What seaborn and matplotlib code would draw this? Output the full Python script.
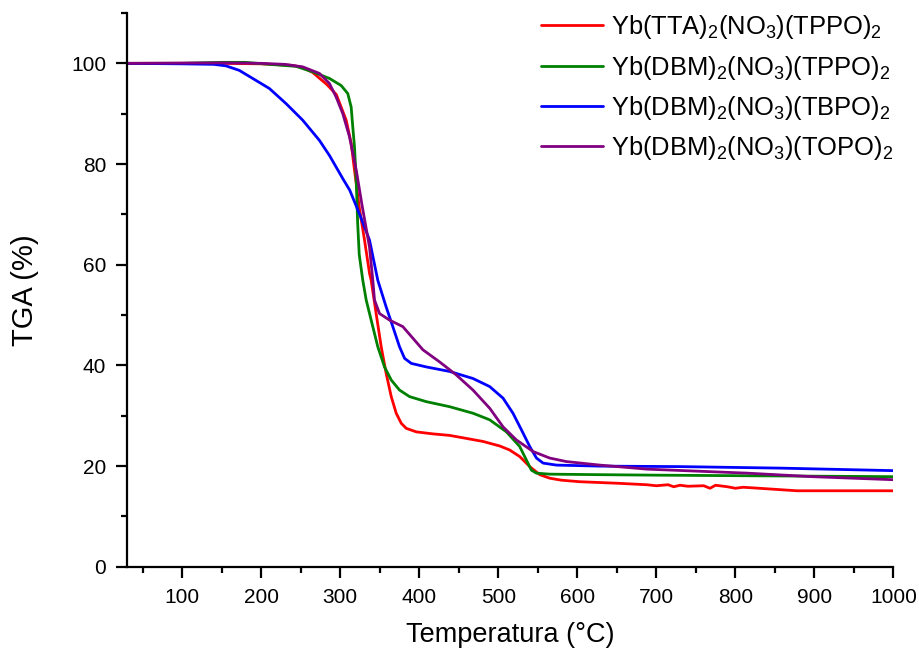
import numpy as np
import pandas as pd
import matplotlib
matplotlib.use("Agg")
import matplotlib.pyplot as plt
import seaborn as sns
from matplotlib.ticker import MultipleLocator

sns.set_theme(style="ticks")
plt.rcParams['font.family'] = ['Liberation Sans', 'DejaVu Sans']
plt.rcParams['mathtext.fontset'] = 'custom'
plt.rcParams['mathtext.rm'] = 'Liberation Sans'
plt.rcParams['mathtext.it'] = 'Liberation Sans:italic'
plt.rcParams['mathtext.bf'] = 'Liberation Sans:bold'
for k in ['text.color', 'axes.labelcolor', 'xtick.color', 'ytick.color', 'axes.edgecolor']:
    plt.rcParams[k] = 'black'

labels = [r'Yb(TTA)$_2$(NO$_3$)(TPPO)$_2$',
          r'Yb(DBM)$_2$(NO$_3$)(TPPO)$_2$',
          r'Yb(DBM)$_2$(NO$_3$)(TBPO)$_2$',
          r'Yb(DBM)$_2$(NO$_3$)(TOPO)$_2$']
colors = ['#FF0000', '#008000', '#0000FF', '#800080']

tta_tppo_x = [30, 100, 150, 200, 239, 252, 265, 274, 283, 295, 307.5, 313.8, 318, 324, 330.7, 337,
              339.1, 345.4, 351.8, 358.1, 364.5, 370.8, 377.2, 383.5, 396.2, 417.3, 438.4, 459.6,
              480.6, 501.8, 514.4, 527.1, 539.8, 552.5, 565.1, 580, 603, 650, 688,
              700, 715, 722, 730, 740, 760, 768, 775, 790, 800, 810, 830, 878, 920, 1000]
tta_tppo_y = [100, 100, 100, 99.9, 99.6, 99.2, 98.2, 97.0, 95.8, 93.8, 88.7, 84.1, 78.8, 71.4, 64.9,
              58.3, 56.9, 50.3, 43.7, 38.4, 33.8, 30.5, 28.5, 27.5, 26.8, 26.4, 26.1, 25.5,
              24.9, 24.0, 23.2, 21.9, 19.9, 18.3, 17.6, 17.2, 16.9, 16.6, 16.3,
              16.1, 16.3, 15.9, 16.2, 16.0, 16.1, 15.6, 16.2, 15.9, 15.6, 15.8, 15.6, 15.1, 15.1, 15.1]

dbm_tppo_x = [30, 100, 150, 180, 210.3, 244.1, 265.2, 286.3, 301.1, 309.5, 313.8, 315.8, 318.0,
              320.2, 322, 324, 328.5, 332.8, 339.1, 347.5, 356.0, 364.5, 375.0, 387.7, 408.9,
              438.4, 468.0, 489.1, 510.3, 527.1, 535.6, 541.9, 548.3, 565.1, 628.5, 700, 800, 1000]
dbm_tppo_y = [100, 100, 100.2, 100.2, 99.8, 99.4, 98.3, 97.0, 95.6, 94.0, 91.3, 87.4, 83.4,
              76.8, 68.3, 62.0, 56.9, 53.0, 49.0, 43.7, 39.7, 37.1, 35.1, 33.8, 32.8,
              31.8, 30.5, 29.2, 26.8, 23.9, 21.2, 19.2, 18.6, 18.4, 18.3, 18.2, 18.1, 17.9]

dbm_tbpo_x = [30, 100, 140, 155.4, 172.2, 193.4, 210.3, 231.4, 252.5, 273.6, 286.3, 303.2, 312,
              324, 337, 347.5, 358.1, 366.5, 375.0, 381.4, 389.9, 408.9, 438.4, 468.0, 489.1,
              506.0, 518.6, 529.3, 539.8, 548.3, 556.7, 573.6, 628.5, 730, 857, 1000]
dbm_tbpo_y = [100, 99.9, 99.8, 99.5, 98.6, 96.6, 95.0, 92.0, 88.7, 84.7, 81.7, 77.1, 74.8,
              70.2, 64.9, 56.9, 51.6, 47.7, 43.7, 41.4, 40.4, 39.7, 38.8, 37.4, 35.8,
              33.5, 30.5, 27.2, 23.9, 21.6, 20.6, 20.2, 20.0, 19.9, 19.6, 19.1]

dbm_topo_x = [30, 150, 200, 230, 252.5, 273.6, 286.3, 294.8, 303.2, 311.7, 320.2, 328, 337, 341.2,
              343.3, 349.7, 362.4, 379.2, 391.9, 404.6, 425.7, 446.9, 468.0, 489.1, 506.0, 522.9,
              544.0, 565.1, 586.3, 628.5, 688, 815, 898, 1000]
dbm_topo_y = [100, 100.1, 100.0, 99.8, 99.3, 98.0, 96.0, 93.3, 90.0, 85.4, 78.8, 71.4, 63.5, 56.9,
              53.0, 50.3, 49.0, 47.7, 45.4, 43.1, 40.7, 38.1, 35.1, 31.5, 27.8, 25.2,
              22.9, 21.6, 20.9, 20.2, 19.4, 18.6, 17.9, 17.3]

series_x = [tta_tppo_x, dbm_tppo_x, dbm_tbpo_x, dbm_topo_x]
series_y = [tta_tppo_y, dbm_tppo_y, dbm_tbpo_y, dbm_topo_y]

frames = []
for lab, xs, ys in zip(labels, series_x, series_y):
    frames.append(pd.DataFrame({'T': xs, 'TGA': ys, 'sample': lab}))
df = pd.concat(frames, ignore_index=True)

fig = plt.figure(figsize=(9.2, 6.5), dpi=100)
ax = fig.add_axes([0.138, 0.128, 0.833, 0.852])

sns.lineplot(data=df, x='T', y='TGA', hue='sample', hue_order=labels,
             palette=dict(zip(labels, colors)), estimator=None, sort=False,
             linewidth=2.0, ax=ax)

ax.set_xlim(30, 1000)
ax.set_ylim(0, 110)
ax.xaxis.set_minor_locator(MultipleLocator(50))
ax.yaxis.set_minor_locator(MultipleLocator(10))
ax.set_xticks([100, 200, 300, 400, 500, 600, 700, 800, 900, 1000])
ax.set_yticks([0, 20, 40, 60, 80, 100])

for s in ['top', 'right']:
    ax.spines[s].set_visible(False)
for s in ['left', 'bottom']:
    ax.spines[s].set_linewidth(1.6)
    ax.spines[s].set_color('black')

ax.tick_params(which='major', direction='out', length=8, width=1.6, labelsize=15,
               colors='black', pad=7)
ax.tick_params(which='minor', direction='out', length=4.5, width=1.6, colors='black')

ax.set_xlabel('Temperatura (°C)', fontsize=19.5, labelpad=11)
ax.set_ylabel('TGA (%)', fontsize=21, labelpad=23)

leg = ax.legend(loc='upper right', bbox_to_anchor=(1.013, 1.018), frameon=False,
                fontsize=18.4, handlelength=2.42, handletextpad=0.3, labelspacing=0.48,
                borderaxespad=0)
for line in leg.get_lines():
    line.set_linewidth(2.0)

fig.savefig('out.png', dpi=100)
